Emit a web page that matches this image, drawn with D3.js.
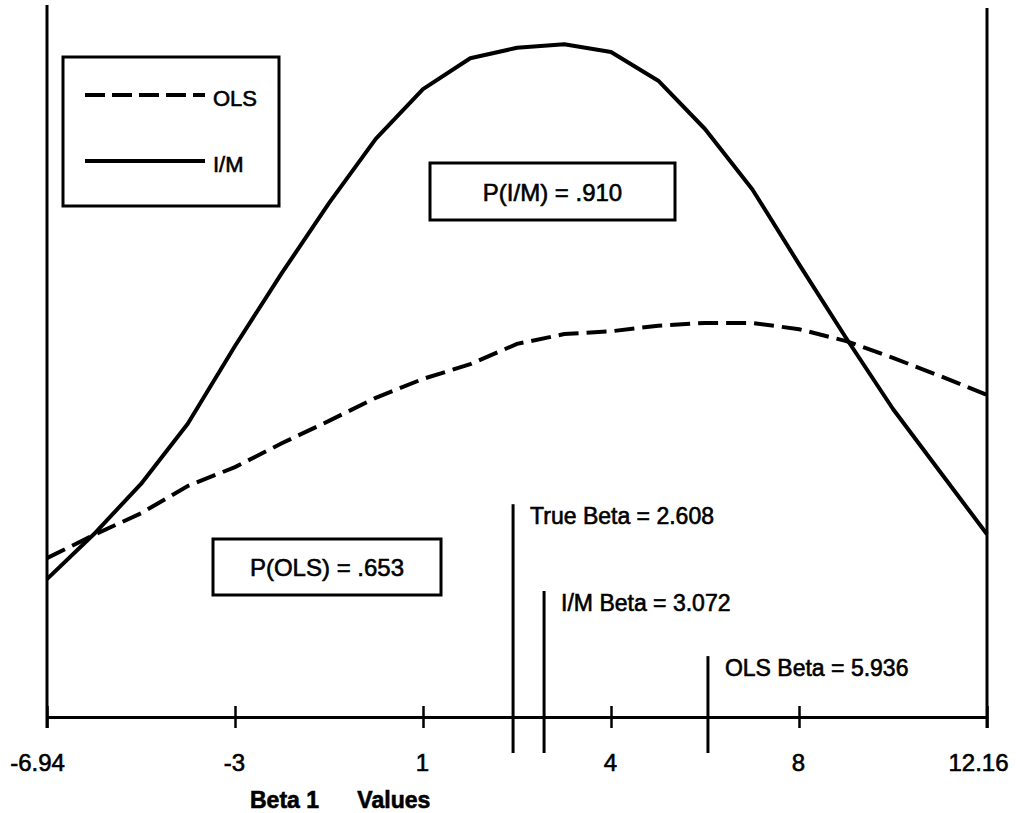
<!DOCTYPE html>
<html>
<head>
<meta charset="utf-8">
<script src="https://cdn.jsdelivr.net/npm/d3@7"></script>
<style>
  body { margin: 0; background: #fff; }
  text { font-family: "Liberation Sans", Arial, Helvetica, sans-serif; fill: #000; stroke: #000; stroke-width: 0.6px; }
</style>
</head>
<body>
<div id="chart"></div>
<script>
// beta 1 grid (21 points) and the two curves
var betaGrid = [-6.94, -5.99, -5.03, -4.08, -3.12, -2.17, -1.21, -0.26, 0.70, 1.66, 2.61,
                3.57, 4.52, 5.48, 6.43, 7.39, 8.34, 9.30, 10.25, 11.21, 12.16];
var imValues = [0.197, 0.261, 0.333, 0.419, 0.530, 0.634, 0.734, 0.826, 0.897, 0.941, 0.956,
                0.961, 0.950, 0.909, 0.840, 0.754, 0.647, 0.541, 0.440, 0.350, 0.261];
var olsValues = [0.227, 0.260, 0.291, 0.330, 0.357, 0.391, 0.423, 0.456, 0.483, 0.504, 0.533,
                 0.547, 0.551, 0.559, 0.563, 0.563, 0.554, 0.537, 0.513, 0.487, 0.460];

// axis ticks
var tickValues = [-6.94, -3.12, 0.70, 4.52, 8.34, 12.16];
var tickLabels = ["-6.94", "-3", "1", "4", "8", "12.16"];

// vertical markers
var markerLabels = ["True Beta = 2.608", "I/M Beta = 3.072", "OLS Beta = 5.936"];
var markerPos = [2.53, 3.16, 6.49];
var markerHeight = [0.304, 0.180, 0.087];

var width = 1016, height = 813;
var margin = { top: 17, right: 29, bottom: 96, left: 47 };
var plotW = width - margin.left - margin.right;
var plotH = height - margin.top - margin.bottom;

var svg = d3.select("#chart")
  .append("svg")
  .attr("width", width)
  .attr("height", height)
  .append("g")
  .attr("transform", "translate(" + margin.left + "," + margin.top + ")");

var xScale = d3.scaleLinear().domain([-6.94, 12.16]).range([0, plotW]);
var yScale = d3.scaleLinear().domain([0, 1]).range([plotH, 0]);

// left and right frame lines
svg.selectAll("line.side")
  .data([-6.94, 12.16])
  .enter()
  .append("line")
  .attr("class", "side")
  .attr("x1", function (d) { return xScale(d); })
  .attr("x2", function (d) { return xScale(d); })
  .attr("y1", function (d, i) { return i == 0 ? -12 : -9; })
  .attr("y2", plotH + 11)
  .attr("stroke", "#000")
  .attr("stroke-width", 3);

// x axis
var xAxis = d3.axisBottom(xScale)
  .tickValues(tickValues)
  .tickFormat(function (d, i) { return tickLabels[i]; })
  .tickSizeInner(0)
  .tickSizeOuter(0)
  .tickPadding(37);

var gx = svg.append("g")
  .attr("class", "x axis")
  .attr("transform", "translate(0," + plotH + ")")
  .call(xAxis);
gx.select(".domain").attr("stroke", "#000").attr("stroke-width", 3);
gx.selectAll(".tick text")
  .style("font-size", "24px")
  .attr("dx", function (d, i) { return i == 0 ? -10 : (i == tickValues.length - 1 ? -9 : -1); });
// ticks cross the axis
gx.selectAll(".tick")
  .append("line")
  .attr("y1", -11)
  .attr("y2", 11)
  .attr("stroke", "#000")
  .attr("stroke-width", 2.5);

svg.append("text")
  .attr("x", 203)
  .attr("y", plotH + 91)
  .style("font-size", "23px")
  .style("font-weight", "bold")
  .attr("xml:space", "preserve")
  .text("Beta 1      Values");

// curves
var line = d3.line()
  .x(function (d, i) { return xScale(betaGrid[i]); })
  .y(function (d) { return yScale(d); });

svg.append("path")
  .datum(olsValues)
  .attr("d", line)
  .attr("fill", "none")
  .attr("stroke", "#000")
  .attr("stroke-width", 4)
  .attr("stroke-dasharray", "20,8");

svg.append("path")
  .datum(imValues)
  .attr("d", line)
  .attr("fill", "none")
  .attr("stroke", "#000")
  .attr("stroke-width", 4)
  .attr("stroke-linejoin", "round");

// beta markers
var markers = svg.selectAll("g.marker")
  .data(markerPos)
  .enter()
  .append("g")
  .attr("class", "marker");

markers.append("line")
  .attr("x1", function (d) { return xScale(d); })
  .attr("x2", function (d) { return xScale(d); })
  .attr("y1", function (d, i) { return yScale(markerHeight[i]); })
  .attr("y2", plotH + 36)
  .attr("stroke", "#000")
  .attr("stroke-width", 3);

markers.append("text")
  .attr("x", function (d) { return xScale(d) + 17; })
  .attr("y", function (d, i) { return yScale(markerHeight[i]) + 20; })
  .style("font-size", "23px")
  .text(function (d, i) { return markerLabels[i]; });

// legend
var legend = svg.append("g").attr("transform", "translate(" + (63 - margin.left) + "," + (57 - margin.top) + ")");
legend.append("rect")
  .attr("width", 216).attr("height", 149)
  .attr("fill", "none").attr("stroke", "#000").attr("stroke-width", 3);
legend.append("line")
  .attr("x1", 22).attr("x2", 142).attr("y1", 38).attr("y2", 38)
  .attr("stroke", "#000").attr("stroke-width", 4).attr("stroke-dasharray", "20,7");
legend.append("text").attr("x", 150).attr("y", 49).style("font-size", "22px").text("OLS");
legend.append("line")
  .attr("x1", 22).attr("x2", 142).attr("y1", 104).attr("y2", 104)
  .attr("stroke", "#000").attr("stroke-width", 4);
legend.append("text").attr("x", 150).attr("y", 115).style("font-size", "22px").text("I/M");

// probability boxes
var boxes = [
  { x: 430, y: 163, w: 245, h: 57, label: "P(I/M) = .910" },
  { x: 213, y: 539, w: 228, h: 56, label: "P(OLS) = .653" }
];
var bx = svg.selectAll("g.pbox")
  .data(boxes)
  .enter()
  .append("g")
  .attr("class", "pbox")
  .attr("transform", function (d) { return "translate(" + (d.x - margin.left) + "," + (d.y - margin.top) + ")"; });
bx.append("rect")
  .attr("width", function (d) { return d.w; })
  .attr("height", function (d) { return d.h; })
  .attr("fill", "#fff")
  .attr("stroke", "#000")
  .attr("stroke-width", 3);
bx.append("text")
  .attr("x", function (d) { return d.w / 2; })
  .attr("y", function (d) { return d.h / 2 + 9; })
  .attr("text-anchor", "middle")
  .style("font-size", "24px")
  .text(function (d) { return d.label; });
</script>
</body>
</html>
